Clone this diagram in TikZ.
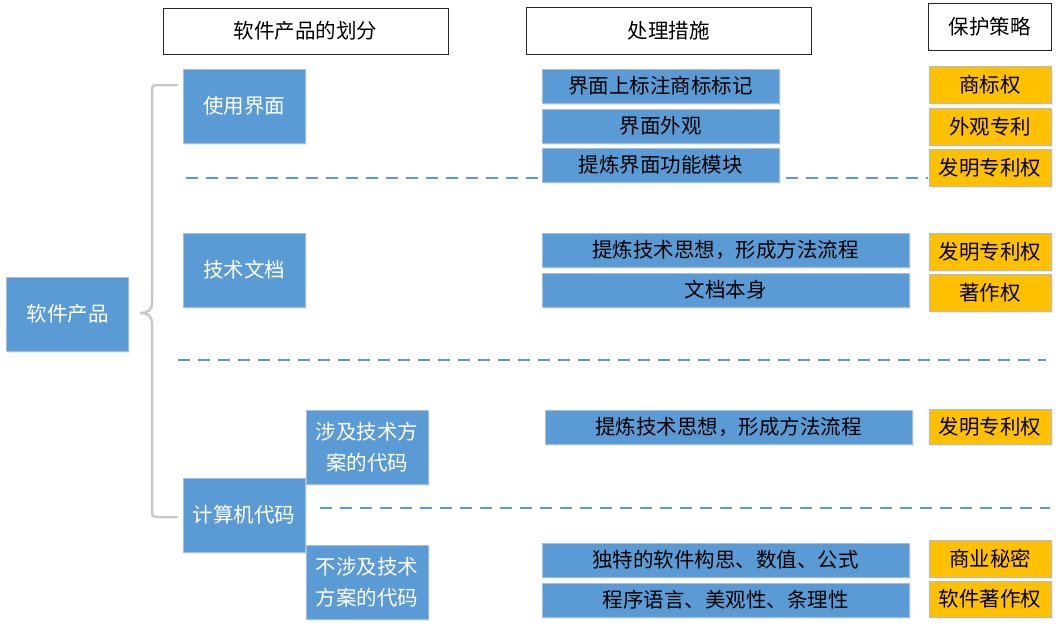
\documentclass[tikz,border=0pt]{standalone}
\usepackage{fontspec}
\setmainfont{Noto Sans CJK SC}
\usetikzlibrary{shadows}
\definecolor{bblue}{HTML}{5B9BD5}
\definecolor{oorange}{HTML}{FFC000}
\definecolor{edgeb}{HTML}{A8BDD9}
\definecolor{bracec}{HTML}{C8C8C8}
\tikzset{
  every node/.style={font=\fontsize{20.5}{31}\selectfont, inner sep=0pt, align=center},
  headbox/.style={draw=black!85, line width=0.9pt, fill=white},
  catbox/.style={draw=edgeb, line width=0.8pt, fill=bblue, text=white, minimum width=122pt, minimum height=74pt,
    drop shadow={opacity=0.15, shadow xshift=1.5pt, shadow yshift=-2pt}},
  measbox/.style={draw=edgeb, line width=0.8pt, fill=bblue, text=black, minimum height=34pt,
    drop shadow={opacity=0.15, shadow xshift=1.5pt, shadow yshift=-2pt}},
  protbox/.style={draw=edgeb, line width=0.8pt, fill=oorange, text=black, minimum width=122pt,
    drop shadow={opacity=0.15, shadow xshift=1.5pt, shadow yshift=-2pt}},
  sepline/.style={draw=bblue, line width=1.2pt, dash pattern=on 12pt off 8pt},
  bracestyle/.style={draw=bracec, line width=2.5pt}
}
\begin{document}
\begin{tikzpicture}[x=1pt,y=-1pt]
\useasboundingbox (0,0) rectangle (1062,630);
% separator lines
\coordinate (s1a) at (186,178); \coordinate (s1b) at (928,178);
\coordinate (s2a) at (178,360); \coordinate (s2b) at (1046,360);
\coordinate (s3a) at (320,508); \coordinate (s3b) at (1050,508);
\draw[sepline] (s1a) -- (s1b);
\draw[sepline] (s2a) -- (s2b);
\draw[sepline] (s3a) -- (s3b);
% brace
\coordinate (bt) at (177,85); \coordinate (bb) at (177,517); \coordinate (bm) at (140,313);
\draw[bracestyle, line cap=round] (bt) -- (160,85) .. controls (152,85) .. (152,93) -- (152,302)
  .. controls (152,310) and (148,313) .. (bm)
  .. controls (148,313) and (152,316) .. (152,324) -- (152,509) .. controls (152,517) .. (160,517) -- (bb);
% headers
\node[headbox, minimum width=285pt, minimum height=46pt] (h1) at (305.5,31) {软件产品的划分};
\node[headbox, minimum width=285pt, minimum height=47pt] (h2) at (668.5,30.5) {处理措施};
\node[headbox, minimum width=123pt, minimum height=47pt] (h3) at (989.5,26.5) {保护策略};
% categories
\node[catbox] (sw) at (67.5,314) {软件产品};
\node[catbox] (ui) at (244,106) {使用界面};
\node[catbox] (doc) at (244,270) {技术文档};
\node[catbox] (code) at (244,515) {计算机代码};
\node[catbox] (tc) at (367,447) {涉及技术方\\案的代码};
\node[catbox] (ntc) at (367,582) {不涉及技术\\方案的代码};
% measures
\node[measbox, minimum width=237pt] (m1) at (660.5,86) {界面上标注商标标记};
\node[measbox, minimum width=237pt] (m2) at (660.5,126) {界面外观};
\node[measbox, minimum width=237pt] (m3) at (660.5,165) {提炼界面功能模块};
\node[measbox, minimum width=367pt] (m4) at (725.5,250) {提炼技术思想，形成方法流程};
\node[measbox, minimum width=367pt] (m5) at (725.5,290) {文档本身};
\node[measbox, minimum width=367pt] (m6) at (728.5,427) {提炼技术思想，形成方法流程};
\node[measbox, minimum width=367pt] (m7) at (725.5,560) {独特的软件构思、数值、公式};
\node[measbox, minimum width=367pt] (m8) at (725.5,600) {程序语言、美观性、条理性};
% protections
\node[protbox, minimum height=37pt] (p1) at (990,84.5) {商标权};
\node[protbox, minimum height=37pt] (p2) at (990,126.5) {外观专利};
\node[protbox, minimum height=37pt] (p3) at (990,167.5) {发明专利权};
\node[protbox, minimum height=37pt] (p4) at (990,251.5) {发明专利权};
\node[protbox, minimum height=37pt] (p5) at (990,292.5) {著作权};
\node[protbox, minimum height=35pt] (p6) at (990,426.5) {发明专利权};
\node[protbox, minimum height=37pt] (p7) at (990,558.5) {商业秘密};
\node[protbox, minimum height=36pt] (p8) at (990,599) {软件著作权};
\end{tikzpicture}
\end{document}
